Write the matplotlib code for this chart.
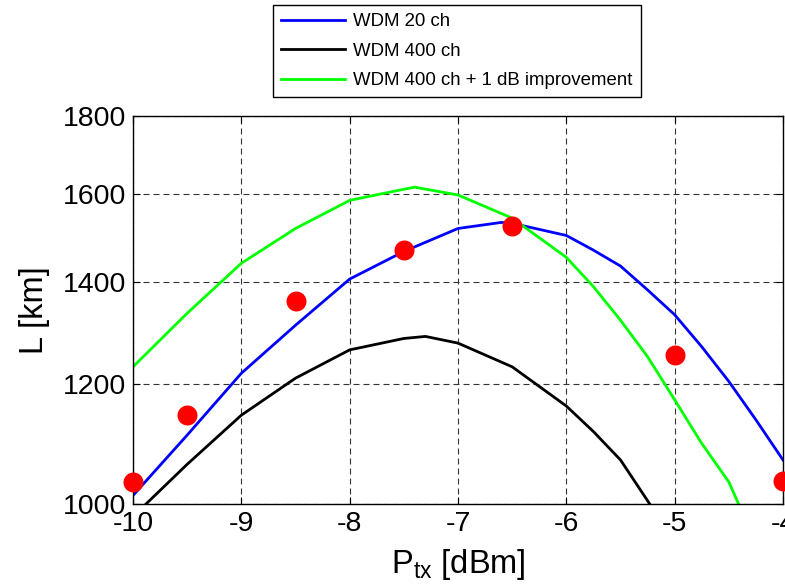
import matplotlib
matplotlib.use("Agg")
import matplotlib.pyplot as plt
from matplotlib.ticker import FixedLocator, FixedFormatter, NullLocator

plt.rcParams['font.family'] = ['Liberation Sans', 'DejaVu Sans']
plt.rcParams['mathtext.fontset'] = 'custom'
plt.rcParams['mathtext.rm'] = 'Liberation Sans'
plt.rcParams['mathtext.it'] = 'Liberation Sans'
plt.rcParams['axes.unicode_minus'] = False
plt.rcParams['lines.scale_dashes'] = False

# Data
x_blue = [-10, -9.5, -9, -8.5, -8, -7.5, -7, -6.6, -6.5, -6, -5.75, -5.5, -5.25, -5, -4.75, -4.5, -4.25, -4]
y_blue = [1013, 1110, 1219, 1311, 1406, 1466, 1518, 1532, 1530, 1502, 1469, 1434, 1383, 1332, 1269, 1204, 1136, 1069]

x_black = [-9.88, -9.5, -9, -8.5, -8, -7.5, -7.3, -7, -6.5, -6, -5.75, -5.5, -5.23]
y_black = [1000, 1062, 1144, 1210, 1263, 1285, 1289, 1276, 1231, 1160, 1116, 1069, 1000]

x_green = [-10, -9.5, -9, -8.5, -8, -7.5, -7.4, -7, -6.5, -6, -5.75, -5.5, -5.25, -5, -4.75, -4.5, -4.41]
y_green = [1231, 1335, 1440, 1518, 1584, 1611, 1616, 1597, 1542, 1453, 1390, 1321, 1250, 1171, 1096, 1034, 1000]

x_meas = [-10, -9.5, -8.5, -7.5, -6.5, -5, -4]
y_meas = [1034, 1144, 1360, 1469, 1524, 1253, 1035]

labels = ['WDM 20 ch', 'WDM 400 ch', 'WDM 400 ch + 1 dB improvement']
xticks = [-10, -9, -8, -7, -6, -5, -4]
yticks = [1000, 1200, 1400, 1600, 1800]

fig = plt.figure(figsize=(7.85, 5.88), dpi=100)
ax = fig.add_axes([133/785, 1-504/588, (783-133)/785, (504-116)/588])
ax.set_yscale('log')

l1, = ax.plot(x_blue, y_blue, color='#0000ff', lw=2, label=labels[0])
l2, = ax.plot(x_black, y_black, color='black', lw=2, label=labels[1])
l3, = ax.plot(x_green, y_green, color='#00ff00', lw=2, label=labels[2])
ax.plot(x_meas, y_meas, 'o', color='red', markersize=14.4, markeredgewidth=0,
        clip_on=False, zorder=5)

ax.set_xlim(-10, -4)
ax.set_ylim(1000, 1800)
ax.xaxis.set_major_locator(FixedLocator(xticks))
ax.yaxis.set_major_locator(FixedLocator(yticks))
ax.yaxis.set_major_formatter(FixedFormatter([str(v) for v in yticks]))
ax.yaxis.set_minor_locator(NullLocator())
ax.xaxis.set_major_formatter(FixedFormatter([str(v) for v in xticks]))

ax.grid(True, which='major', color='#333333', linestyle=(0, (4.3, 2.9)), lw=0.8)
ax.tick_params(direction='in', top=True, right=True, length=5, width=0.8,
               labelsize=20.5, pad=5)
for s in ax.spines.values():
    s.set_linewidth(1.0)

ax.set_xlabel(r'P$_{\mathrm{tx}}$ [dBm]', fontsize=23.5, labelpad=7)
ax.set_ylabel('L [km]', fontsize=23.5, labelpad=9)

leg = fig.legend(handles=[l1, l2, l3], loc='upper left',
                 bbox_to_anchor=(273/785, 1-5/588), bbox_transform=fig.transFigure,
                 fontsize=13.4, frameon=True, fancybox=False, framealpha=1,
                 edgecolor='black', handlelength=3.4, handletextpad=0.45,
                 labelspacing=0.66, borderpad=0.45, borderaxespad=0)
leg.get_frame().set_linewidth(1.0)

fig.savefig('out.png', dpi=100)
